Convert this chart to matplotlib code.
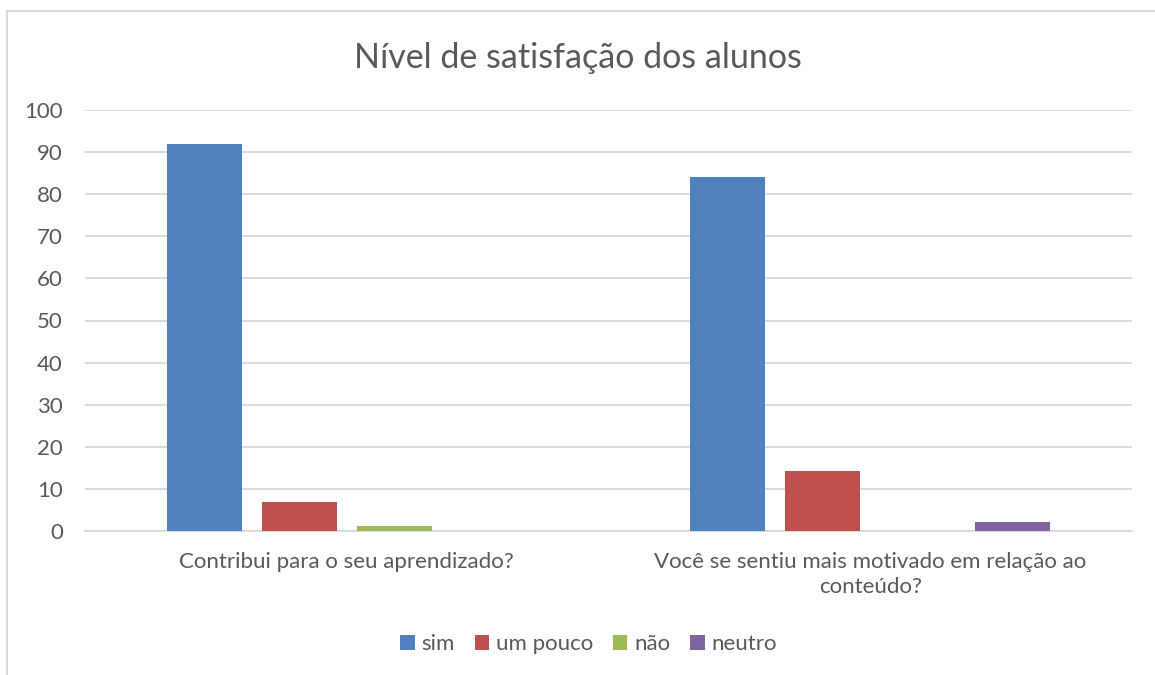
import numpy as np
import matplotlib.pyplot as plt
from matplotlib.patches import Rectangle

categories = ["Contribui para o seu aprendizado?",
              "Você se sentiu mais motivado em relação ao\nconteúdo?"]
series = ["sim", "um pouco", "não", "neutro"]
sim = [92, 84]
um_pouco = [7, 14.3]
nao = [1.2, 0]
neutro = [0, 2.2]
values = [sim, um_pouco, nao, neutro]
colors = ["#4F81BD", "#C0504D", "#9BBB59", "#8064A2"]
yticks = list(range(0, 101, 10))

plt.rcParams['font.family'] = ['Lato', 'DejaVu Sans']
text_color = "#595959"

fig = plt.figure(figsize=(11.55, 6.75), dpi=100)
ax = fig.add_axes([85 / 1155, 1 - 531 / 675, 1047 / 1155, 421 / 675])

# chart border (cut off on the right and bottom)
fig.patches.append(Rectangle((7 / 1155, -0.1), 1.2, (675 - 11) / 675 + 0.1,
                             transform=fig.transFigure, fill=False,
                             edgecolor="#D9D9D9", linewidth=1.5))

x = np.arange(len(categories))
step = 0.1816
width = 0.1434
for i, (name, vals) in enumerate(zip(series, values)):
    ax.bar(x + (i - 1.5) * step, vals, width, color=colors[i], label=name, zorder=3)

ax.set_xlim(-0.5, 1.5)
ax.set_ylim(0, 100)
ax.set_yticks(yticks)
ax.yaxis.grid(True, color="#D9D9D9", linewidth=1.3, zorder=0)
ax.set_axisbelow(True)
for s in ["top", "right", "left"]:
    ax.spines[s].set_visible(False)
ax.spines["bottom"].set_color("#D9D9D9")
ax.spines["bottom"].set_linewidth(1.3)
ax.tick_params(axis="both", length=0, colors=text_color, labelsize=16)
ax.tick_params(axis="y", pad=16)
ax.tick_params(axis="x", pad=15)
ax.set_xticks(x)
ax.set_xticklabels(categories, fontsize=16, color=text_color, linespacing=1.3)

fig.text(0.5, 1 - 58 / 675, "Nível de satisfação dos alunos", ha="center", va="center",
         fontsize=24.5, color=text_color)

leg = fig.legend(loc="center", bbox_to_anchor=(0.5 + 11 / 1155, 1 - 644 / 675), ncol=4,
                 frameon=False, fontsize=16, handlelength=0.65, handleheight=0.65,
                 handletextpad=0.3, columnspacing=0.9)
for t in leg.get_texts():
    t.set_color(text_color)

fig.savefig("out.png", dpi=100)
